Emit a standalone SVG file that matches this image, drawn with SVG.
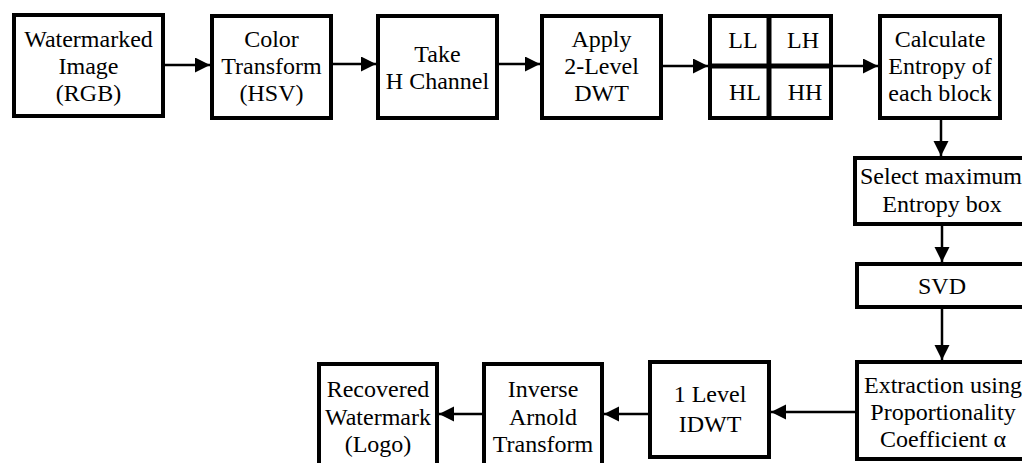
<svg xmlns="http://www.w3.org/2000/svg" width="1022" height="463" viewBox="0 0 1022 463">
<style>
.box{fill:#fff;stroke:#000;stroke-width:4}
text{font-family:'Liberation Serif','Times New Roman',Times,'DejaVu Serif',serif;font-size:24px;fill:#000;text-anchor:middle}
.c{stroke:#000;stroke-width:2.5;fill:none;marker-end:url(#ah)}
.g{stroke:#000;stroke-width:5}
</style>
<defs>
<marker id="ah" markerUnits="userSpaceOnUse" markerWidth="17" markerHeight="17" refX="15" refY="7.5" orient="auto">
<path d="M0,0 L15,7.5 L0,15 Z" fill="#000"/>
</marker>
</defs>
<rect width="1022" height="463" fill="#fff"/>
<g id="connectors">
<line class="c" x1="165" y1="65" x2="210" y2="65"/>
<line class="c" x1="333" y1="64" x2="376" y2="64"/>
<line class="c" x1="499" y1="64" x2="540" y2="64"/>
<line class="c" x1="663" y1="66" x2="708" y2="66"/>
<line class="c" x1="833" y1="66" x2="878" y2="66"/>
<line class="c" x1="941" y1="119" x2="941" y2="156"/>
<line class="c" x1="942" y1="226" x2="942" y2="262"/>
<line class="c" x1="942" y1="309" x2="942" y2="360"/>
<line class="c" x1="855" y1="412" x2="771" y2="412"/>
<line class="c" x1="648" y1="414" x2="604" y2="414"/>
<line class="c" x1="482" y1="414" x2="439" y2="414"/>
</g>
<g id="n1"><rect class="box" x="14" y="15" width="149" height="101"/>
<text x="88.5" y="47">Watermarked</text><text x="88.5" y="74">Image</text><text x="88.5" y="101">(RGB)</text></g>
<g id="n2"><rect class="box" x="212" y="16" width="119" height="102"/>
<text x="271.5" y="47">Color</text><text x="271.5" y="74">Transform</text><text x="271.5" y="101">(HSV)</text></g>
<g id="n3"><rect class="box" x="378" y="16" width="119" height="102"/>
<text x="437.5" y="62">Take</text><text x="437.5" y="89">H Channel</text></g>
<g id="n4"><rect class="box" x="542" y="16" width="119" height="102"/>
<text x="601.5" y="47">Apply</text><text x="601.5" y="74">2-Level</text><text x="601.5" y="101">DWT</text></g>
<g id="n5"><rect class="box" x="710" y="16" width="121" height="102"/>
<line class="g" x1="769" y1="16" x2="769" y2="118"/>
<line class="g" x1="710" y1="66" x2="831" y2="66"/>
<text x="743" y="48">LL</text><text x="803" y="48">LH</text>
<text x="745" y="100">HL</text><text x="805" y="100">HH</text></g>
<g id="n6"><rect class="box" x="880" y="16" width="120" height="102"/>
<text x="940" y="47">Calculate</text><text x="940" y="74">Entropy of</text><text x="940" y="101">each block</text></g>
<g id="n7"><rect class="box" x="855" y="158" width="180" height="66"/>
<text x="941" y="184">Select maximum</text><text x="942" y="212">Entropy box</text></g>
<g id="n8"><rect class="box" x="857" y="264" width="180" height="43"/>
<text x="942" y="294">SVD</text></g>
<g id="n9"><rect class="box" x="857" y="362" width="180" height="97"/>
<text x="943" y="393">Extraction using</text><text x="943" y="420">Proportionality</text><text x="943" y="447">Coefficient α</text></g>
<g id="n10"><rect class="box" x="650" y="362" width="119" height="95"/>
<text x="710" y="402">1 Level</text><text x="710" y="432">IDWT</text></g>
<g id="n11"><rect class="box" x="484" y="364" width="118" height="110"/>
<text x="543" y="397">Inverse</text><text x="543" y="425">Arnold</text><text x="543" y="452">Transform</text></g>
<g id="n12"><rect class="box" x="319" y="364" width="118" height="110"/>
<text x="378" y="397">Recovered</text><text x="378" y="425">Watermark</text><text x="378" y="452">(Logo)</text></g>
</svg>
